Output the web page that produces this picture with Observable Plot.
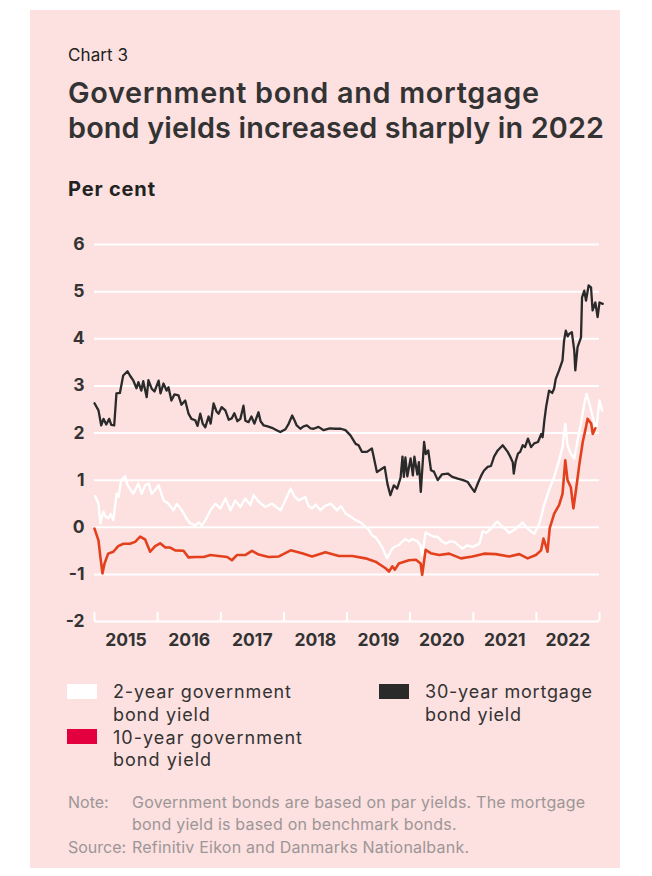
<!DOCTYPE html>
<html><head><meta charset="utf-8">
<script src="https://cdn.jsdelivr.net/npm/d3@7"></script>
<script src="https://cdn.jsdelivr.net/npm/@observablehq/plot@0.6"></script>
<style>
html,body{margin:0;padding:0;background:#fff;}
body{width:652px;height:876px;position:relative;overflow:hidden;font-family:Inter,sans-serif;}
#panel{position:absolute;left:30px;top:10px;width:590px;height:858px;background:#fde0e0;}
.t{position:absolute;white-space:nowrap;font-family:Inter,sans-serif;}
.sw{position:absolute;width:30px;height:15px;}
</style></head><body>
<div id="panel"></div>
<div id="chart" style="position:absolute;left:30px;top:225px;"></div>
<script>
// ---- Data ----
const seriesNames = ["2-year government bond yield", "10-year government bond yield", "30-year mortgage bond yield"];
const yTicks = [6, 5, 4, 3, 2, 1, 0, -1, -2];
const yearLabels = ["2015", "2016", "2017", "2018", "2019", "2020", "2021", "2022"];
const yearTicks = ["2015-01-01","2016-01-01","2017-01-01","2018-01-01","2019-01-01","2020-01-01","2021-01-01","2022-01-01","2023-01-01"];

const gov2y = [["2015-01-05",0.66],["2015-01-24",0.50],["2015-02-04",0.08],["2015-02-11",0.20],["2015-02-22",0.33],["2015-03-07",0.22],["2015-03-21",0.19],["2015-04-05",0.28],["2015-04-20",0.15],["2015-05-09",0.71],["2015-05-21",0.65],["2015-06-04",1.00],["2015-06-27",1.08],["2015-07-10",0.90],["2015-07-25",0.82],["2015-08-14",0.71],["2015-09-12",0.93],["2015-10-01",0.71],["2015-10-21",0.89],["2015-11-10",0.93],["2015-11-28",0.71],["2015-12-20",0.80],["2016-01-07",0.89],["2016-02-05",0.57],["2016-03-04",0.50],["2016-04-02",0.36],["2016-04-21",0.50],["2016-05-20",0.36],["2016-06-18",0.18],["2016-07-08",0.08],["2016-08-06",0.04],["2016-08-25",0.10],["2016-09-14",0.04],["2016-10-04",0.15],["2016-11-02",0.36],["2016-11-30",0.50],["2016-12-29",0.40],["2017-01-28",0.61],["2017-02-26",0.36],["2017-03-25",0.57],["2017-04-24",0.43],["2017-05-22",0.61],["2017-06-21",0.47],["2017-07-10",0.68],["2017-08-08",0.54],["2017-09-16",0.43],["2017-10-24",0.50],["2017-12-12",0.36],["2018-01-07",0.55],["2018-02-09",0.82],["2018-03-04",0.65],["2018-03-27",0.57],["2018-05-05",0.64],["2018-05-24",0.45],["2018-06-13",0.40],["2018-07-04",0.48],["2018-07-31",0.36],["2018-08-25",0.45],["2018-09-28",0.50],["2018-11-05",0.36],["2018-11-27",0.45],["2018-12-24",0.29],["2019-01-24",0.22],["2019-02-21",0.15],["2019-03-21",0.10],["2019-04-18",0.01],["2019-05-07",-0.05],["2019-05-26",-0.17],["2019-06-17",-0.22],["2019-07-04",-0.31],["2019-07-27",-0.45],["2019-08-21",-0.66],["2019-09-20",-0.45],["2019-10-11",-0.40],["2019-10-28",-0.38],["2019-11-18",-0.30],["2019-12-06",-0.25],["2019-12-25",-0.30],["2020-01-14",-0.25],["2020-02-13",-0.30],["2020-03-01",-0.38],["2020-03-11",-0.60],["2020-03-31",-0.11],["2020-04-29",-0.17],["2020-05-18",-0.20],["2020-06-07",-0.20],["2020-06-28",-0.28],["2020-07-25",-0.35],["2020-08-19",-0.30],["2020-09-12",-0.31],["2020-10-05",-0.38],["2020-10-30",-0.45],["2020-11-27",-0.38],["2020-12-27",-0.42],["2021-01-18",-0.38],["2021-02-05",-0.35],["2021-02-24",-0.09],["2021-03-18",-0.12],["2021-04-12",-0.03],["2021-05-01",0.05],["2021-05-20",0.12],["2021-06-18",0.01],["2021-07-10",-0.05],["2021-07-27",-0.12],["2021-08-25",-0.06],["2021-09-18",0.02],["2021-10-13",0.10],["2021-11-04",0.00],["2021-11-21",-0.06],["2021-12-20",-0.14],["2022-01-18",0.08],["2022-02-17",0.50],["2022-03-15",0.79],["2022-04-14",1.07],["2022-05-12",1.42],["2022-06-01",1.70],["2022-06-17",2.20],["2022-06-30",1.74],["2022-07-19",1.56],["2022-08-08",1.46],["2022-08-27",1.84],["2022-09-16",2.20],["2022-10-05",2.62],["2022-10-18",2.83],["2022-11-04",2.62],["2022-11-23",2.34],["2022-12-12",2.06],["2023-01-01",2.69],["2023-01-16",2.48]];

const gov10y = [["2015-01-01",-0.03],["2015-01-24",-0.28],["2015-02-04",-0.63],["2015-02-16",-0.98],["2015-02-28",-0.77],["2015-03-21",-0.56],["2015-04-20",-0.52],["2015-05-18",-0.40],["2015-06-17",-0.35],["2015-07-25",-0.35],["2015-08-24",-0.31],["2015-09-22",-0.20],["2015-10-21",-0.26],["2015-11-19",-0.52],["2015-12-18",-0.40],["2016-01-16",-0.34],["2016-02-15",-0.43],["2016-03-14",-0.43],["2016-04-12",-0.49],["2016-05-30",-0.50],["2016-06-28",-0.64],["2016-08-06",-0.63],["2016-09-24",-0.63],["2016-11-02",-0.59],["2016-12-20",-0.61],["2017-02-07",-0.63],["2017-03-06",-0.70],["2017-04-04",-0.59],["2017-05-22",-0.59],["2017-06-30",-0.50],["2017-08-08",-0.58],["2017-10-05",-0.63],["2017-12-03",-0.62],["2018-02-09",-0.49],["2018-04-16",-0.55],["2018-06-13",-0.62],["2018-08-29",-0.53],["2018-11-15",-0.61],["2019-02-01",-0.61],["2019-04-18",-0.66],["2019-06-15",-0.73],["2019-08-12",-0.87],["2019-09-01",-0.94],["2019-09-20",-0.83],["2019-10-05",-0.90],["2019-10-28",-0.77],["2019-12-25",-0.70],["2020-02-04",-0.69],["2020-03-02",-0.77],["2020-03-11",-1.01],["2020-03-31",-0.48],["2020-04-29",-0.55],["2020-06-17",-0.59],["2020-08-14",-0.56],["2020-10-21",-0.66],["2020-12-27",-0.62],["2021-03-04",-0.56],["2021-05-11",-0.57],["2021-07-27",-0.62],["2021-09-24",-0.57],["2021-11-11",-0.66],["2021-12-29",-0.59],["2022-01-28",-0.49],["2022-02-11",-0.24],["2022-02-26",-0.41],["2022-03-06",-0.52],["2022-03-19",-0.02],["2022-04-14",0.29],["2022-05-12",0.47],["2022-06-01",0.71],["2022-06-17",1.42],["2022-06-30",1.00],["2022-07-19",0.85],["2022-08-03",0.40],["2022-08-18",0.79],["2022-09-07",1.35],["2022-09-26",1.81],["2022-10-15",2.13],["2022-10-24",2.30],["2022-11-14",2.20],["2022-11-23",1.98],["2022-12-08",2.10]];

const mortgage30y = [["2015-01-01",2.63],["2015-01-24",2.48],["2015-02-09",2.16],["2015-02-22",2.30],["2015-03-10",2.18],["2015-03-27",2.30],["2015-04-08",2.17],["2015-04-25",2.16],["2015-05-08",2.84],["2015-05-28",2.85],["2015-06-16",3.22],["2015-07-11",3.31],["2015-07-25",3.22],["2015-08-14",3.11],["2015-09-01",2.95],["2015-09-12",3.08],["2015-09-29",2.90],["2015-10-10",3.10],["2015-10-30",2.76],["2015-11-09",3.12],["2015-11-28",2.94],["2015-12-14",2.88],["2016-01-07",3.11],["2016-01-18",2.84],["2016-02-04",3.05],["2016-02-22",2.90],["2016-03-04",2.97],["2016-03-21",2.69],["2016-04-08",2.82],["2016-05-01",2.80],["2016-05-18",2.60],["2016-06-09",2.69],["2016-06-28",2.41],["2016-07-15",2.30],["2016-08-06",2.27],["2016-08-19",2.15],["2016-09-04",2.41],["2016-09-18",2.20],["2016-10-03",2.12],["2016-10-22",2.35],["2016-11-03",2.20],["2016-11-20",2.63],["2016-12-08",2.45],["2016-12-19",2.41],["2017-01-06",2.55],["2017-01-27",2.48],["2017-02-16",2.28],["2017-03-05",2.31],["2017-03-20",2.42],["2017-04-07",2.25],["2017-04-24",2.30],["2017-05-12",2.58],["2017-05-23",2.26],["2017-06-10",2.23],["2017-06-27",2.35],["2017-07-14",2.20],["2017-08-07",2.44],["2017-08-19",2.25],["2017-09-06",2.16],["2017-09-29",2.14],["2017-10-24",2.11],["2017-11-14",2.07],["2017-12-11",2.02],["2018-01-10",2.08],["2018-01-29",2.20],["2018-02-18",2.37],["2018-03-03",2.27],["2018-03-16",2.16],["2018-04-06",2.09],["2018-04-25",2.14],["2018-05-14",2.16],["2018-06-04",2.10],["2018-06-22",2.09],["2018-07-20",2.13],["2018-08-19",2.06],["2018-09-23",2.10],["2018-10-26",2.09],["2018-11-26",2.09],["2018-12-23",2.06],["2019-01-21",1.95],["2019-02-20",1.77],["2019-03-09",1.74],["2019-03-28",1.60],["2019-04-26",1.60],["2019-05-25",1.67],["2019-06-04",1.50],["2019-06-23",1.17],["2019-07-22",1.24],["2019-08-07",1.28],["2019-08-23",0.92],["2019-09-09",0.68],["2019-09-29",0.89],["2019-10-18",0.82],["2019-11-07",1.05],["2019-11-18",1.50],["2019-11-26",1.07],["2019-12-05",1.48],["2019-12-16",1.08],["2020-01-04",1.46],["2020-01-17",1.10],["2020-01-26",1.50],["2020-02-12",1.12],["2020-02-21",1.38],["2020-03-03",0.75],["2020-03-22",1.81],["2020-04-01",1.55],["2020-04-15",1.63],["2020-05-01",1.21],["2020-05-18",1.18],["2020-06-09",1.00],["2020-07-03",1.12],["2020-08-06",1.14],["2020-09-01",1.07],["2020-10-03",1.03],["2020-11-03",1.00],["2020-11-30",0.96],["2020-12-19",0.85],["2021-01-08",0.75],["2021-01-29",0.95],["2021-02-16",1.10],["2021-03-03",1.20],["2021-03-25",1.28],["2021-04-13",1.30],["2021-05-01",1.50],["2021-05-22",1.63],["2021-06-20",1.74],["2021-07-19",1.60],["2021-08-02",1.50],["2021-08-17",1.38],["2021-08-23",1.14],["2021-09-03",1.40],["2021-09-16",1.56],["2021-09-29",1.60],["2021-10-14",1.74],["2021-10-27",1.70],["2021-11-13",1.88],["2021-12-01",1.70],["2021-12-19",1.78],["2022-01-10",1.81],["2022-01-29",1.98],["2022-02-06",1.91],["2022-02-16",2.27],["2022-02-26",2.55],["2022-03-15",2.90],["2022-04-02",2.85],["2022-04-13",2.94],["2022-04-23",3.15],["2022-05-12",3.33],["2022-06-01",3.54],["2022-06-10",3.96],["2022-06-20",4.17],["2022-07-01",4.05],["2022-07-09",4.10],["2022-07-25",4.14],["2022-08-08",3.75],["2022-08-14",3.33],["2022-08-27",3.82],["2022-09-16",4.03],["2022-09-22",4.88],["2022-10-05",5.02],["2022-10-15",4.81],["2022-10-30",5.13],["2022-11-13",5.09],["2022-11-22",4.60],["2022-12-08",4.77],["2022-12-21",4.46],["2023-01-01",4.77],["2023-01-20",4.74]];

// ---- Styles ----
const lineColors = ["#ffffff", "#e3411d", "#2a2a2a"];
const legendColors = ["#ffffff", "#e4003f", "#2a2a2a"];
const textColor = "#333333";
const noteColor = "#9c9696";
const ASC = 0.969, DESC = 0.242; // Inter line metrics

// ---- Text helpers ----
function measure(txt, size, weight) {
  const s = document.createElement("span");
  s.style.cssText = `position:absolute;visibility:hidden;white-space:nowrap;font-family:Inter,sans-serif;font-size:${size}px;font-weight:${weight};`;
  s.textContent = txt;
  document.body.appendChild(s);
  const w = s.getBoundingClientRect().width;
  s.remove();
  return w;
}
const esc = s => s.replace(/&/g, "&amp;").replace(/</g, "&lt;");
// place a (possibly multi-line) block so its first baseline sits at `baseline`;
// targets: optional width per line (a line without its own target reuses the previous spacing)
function place(lines, x, baseline, size, weight, color, lh, targets) {
  lines = [].concat(lines);
  targets = targets == null ? [] : [].concat(targets);
  lh = lh || Math.ceil(size * (ASC + DESC));
  const d = document.createElement("div");
  d.className = "t";
  let ls = 0;
  d.innerHTML = lines.map((s, i) => {
    if (targets[i] != null) {
      const w = measure(s, size, weight);
      ls = (targets[i] - w) / Math.max(1, s.length - 1);
    }
    return `<span style="letter-spacing:${ls}px">${esc(s)}</span>`;
  }).join("<br>");
  d.style.left = x + "px";
  d.style.lineHeight = lh + "px";
  d.style.top = (baseline - (lh - (ASC + DESC) * size) / 2 - ASC * size) + "px";
  d.style.fontSize = size + "px";
  d.style.fontWeight = weight;
  d.style.color = color;
  document.body.appendChild(d);
  return d;
}
function swatch(x, y, color) {
  const d = document.createElement("div");
  d.className = "sw";
  d.style.left = x + "px"; d.style.top = y + "px"; d.style.background = color;
  document.body.appendChild(d);
}

place("Chart 3", 68, 61.5, 17, 400, "#222", null, 60);
place(["Government bond and mortgage", "bond yields increased sharply in 2022"], 68, 103, 28.8, 600, textColor, 35, [471, 536]);
place("Per cent", 68, 196.5, 20, 700, "#222", null, 87);

// legend
const legLH = 22.7, legSize = 18;
swatch(67, 684, legendColors[0]);
place(["2-year government", "bond yield"], 113, 699, legSize, 400, textColor, legLH, 178);
swatch(67, 729, legendColors[1]);
place(["10-year government", "bond yield"], 113, 744.5, legSize, 400, textColor, legLH, 189);
swatch(379, 684, legendColors[2]);
place(["30-year mortgage", "bond yield"], 425, 699, legSize, 400, textColor, legLH, 167);

// notes
place("Note:", 68, 808, 16, 400, noteColor, 22.5);
place(["Government bonds are based on par yields. The mortgage", "bond yield is based on benchmark bonds."], 132, 808, 16, 400, noteColor, 22.5, 453);
place("Source:", 68, 853, 16, 400, noteColor, 22.5);
place("Refinitiv Eikon and Danmarks Nationalbank.", 132, 853, 16, 400, noteColor, 22.5, 337);

// ---- Chart ----
const parse = s => new Date(s + "T00:00:00Z");
const H = 435, MT = 19, MB = 39, tickLen = 9;
const chart = Plot.plot({
  width: 590, height: H,
  marginLeft: 64, marginRight: 21, marginTop: MT, marginBottom: MB,
  style: {background: "none", fontFamily: "Inter, sans-serif", overflow: "visible"},
  x: {type: "utc", domain: [parse(yearTicks[0]), parse(yearTicks[yearTicks.length - 1])], axis: null},
  y: {domain: [-2, 6], axis: null},
  marks: [
    Plot.ruleY(yTicks.filter(v => v > -2), {stroke: "white", strokeWidth: 2}),
    Plot.ruleY([-2], {stroke: "white", strokeWidth: 2}),
    Plot.ruleX(yearTicks, {x: d => parse(d), stroke: "white", strokeWidth: 2, insetTop: H - MT - MB - tickLen}),
    Plot.text(yTicks, {y: d => d, text: d => String(d), frameAnchor: "left", dx: -10, textAnchor: "end", fontSize: 17.5, fontWeight: 700, fill: textColor}),
    Plot.text(yearLabels, {x: d => new Date(Date.UTC(+d, 6, 2)), text: d => d, frameAnchor: "bottom", dy: 24, fontSize: 17.5, fontWeight: 700, fill: textColor}),
    Plot.line(gov2y, {x: d => parse(d[0]), y: d => d[1], stroke: lineColors[0], strokeWidth: 2.4, strokeLinejoin: "round"}),
    Plot.line(gov10y, {x: d => parse(d[0]), y: d => d[1], stroke: lineColors[1], strokeWidth: 2.6, strokeLinejoin: "round"}),
    Plot.line(mortgage30y, {x: d => parse(d[0]), y: d => d[1], stroke: lineColors[2], strokeWidth: 2.3, strokeLinejoin: "round"})
  ]
});
document.getElementById("chart").appendChild(chart);
</script></body></html>
